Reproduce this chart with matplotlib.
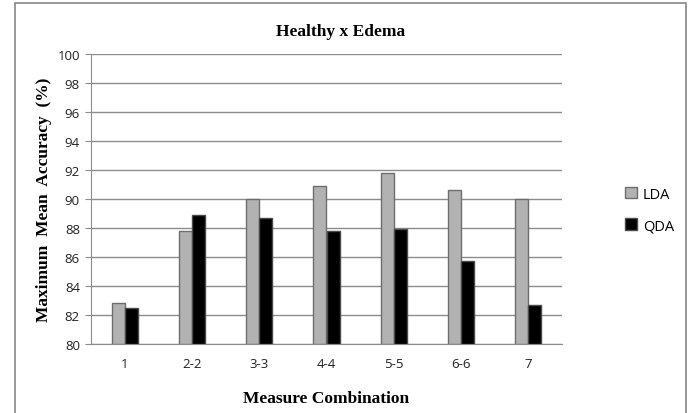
import matplotlib.pyplot as plt
import numpy as np
from matplotlib.patches import Rectangle

categories = ["1", "2-2", "3-3", "4-4", "5-5", "6-6", "7"]
lda = [82.8, 87.8, 90.0, 90.9, 91.8, 90.65, 90.0]
qda = [82.5, 88.9, 88.7, 87.8, 87.95, 85.7, 82.7]
yticks = [80, 82, 84, 86, 88, 90, 92, 94, 96, 98, 100]

W, H = 691, 414
fig = plt.figure(figsize=(W / 100, H / 100), dpi=100)
ax = fig.add_axes([91 / W, 1 - 345 / H, 471 / W, 290 / H])

# outer chart frame
fig.patches.append(Rectangle((15 / W, -0.05), 671 / W, 1.05 - 4 / H, transform=fig.transFigure,
                             fill=False, edgecolor="#868686", linewidth=1.2))

x = np.arange(len(categories))
bw = 0.195
ax.bar(x - bw / 2, [v - 80 for v in lda], bw, bottom=80, color="#b2b2b2", edgecolor="#6e6e6e",
       linewidth=1.0, label="LDA", zorder=3)
ax.bar(x + bw / 2, [v - 80 for v in qda], bw, bottom=80, color="#000000", edgecolor="#4a4a4a",
       linewidth=1.0, label="QDA", zorder=3)

ax.set_xlim(-0.5, len(categories) - 0.5)
ax.set_ylim(80, 100)
ax.set_yticks(yticks)
ax.set_xticks(x)
ax.set_xticklabels(categories)
ax.yaxis.grid(True, color="#8c8c8c", linewidth=1.0, zorder=0)
for s in ["top", "right"]:
    ax.spines[s].set_visible(False)
ax.spines["left"].set_color("#8c8c8c")
ax.spines["bottom"].set_color("#8c8c8c")
ax.tick_params(axis="y", direction="out", length=4, color="#8c8c8c", pad=4)
ax.tick_params(axis="x", length=0, pad=9)
for lbl in ax.get_xticklabels() + ax.get_yticklabels():
    lbl.set_fontfamily("Open Sans")
    lbl.set_fontsize(9.5)
    lbl.set_color("#222222")

fig.text(341 / W, 1 - 32 / H, "Healthy x Edema", ha="center", va="center",
         fontfamily="Liberation Serif", fontweight="bold", fontsize=12.5)
ax.set_xlabel("Measure Combination", fontfamily="Liberation Serif", fontweight="bold",
              fontsize=12.5, labelpad=15)
ax.set_ylabel("Maximum  Mean  Accuracy  (%)", fontfamily="Liberation Serif", fontweight="bold",
              fontsize=12.5, labelpad=4)

leg = fig.legend(loc="center left", bbox_to_anchor=(612 / W, 1 - 211 / H), frameon=False,
                 handlelength=0.8, handleheight=0.8, handletextpad=0.4, labelspacing=1.1,
                 prop={"family": "Open Sans", "size": 10.5})

fig.savefig("out.png", dpi=100)
